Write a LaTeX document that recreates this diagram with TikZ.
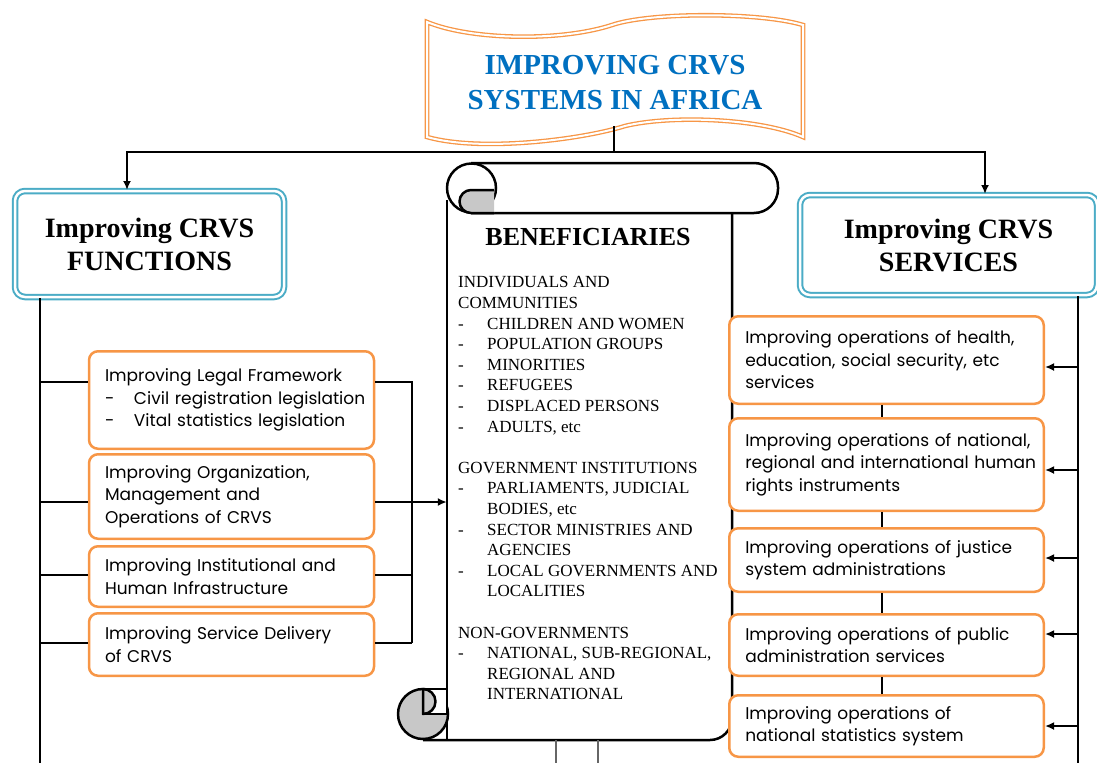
\documentclass[tikz,border=0pt]{standalone}
\usepackage{fontspec}
\setmainfont{Liberation Serif}
\newfontfamily\boxfont{Poppins}
\usetikzlibrary{arrows.meta}

\definecolor{titleblue}{RGB}{0,112,192}
\definecolor{boxorange}{RGB}{247,150,70}
\definecolor{boxblue}{RGB}{75,172,198}
\definecolor{curlgrey}{RGB}{200,200,200}

\newcommand{\bul}{\makebox[29pt][l]{-}}
\newcommand{\ind}{\hspace*{29pt}}

\tikzset{
  headbox/.style={draw=boxblue, double=white, double distance=2.5pt, line width=2pt,
    rounded corners=10pt, fill=white, align=center,
    font=\fontsize{28}{33}\selectfont\bfseries},
  leftbox/.style={draw=boxorange, line width=2.5pt, rounded corners=9pt, fill=white,
    align=left, inner xsep=16pt, inner ysep=0pt, text width=253pt,
    font=\boxfont\fontsize{17}{22.5}\selectfont},
  rightbox/.style={leftbox, text width=282.5pt},
  link/.style={line width=2pt},
  thinlink/.style={line width=1.2pt},
  tip/.style={-{Latex[length=9pt, width=8pt]}},
  scrollline/.style={line width=2.5pt, line join=round},
}

\begin{document}
\begin{tikzpicture}[x=1pt, y=-1pt]
  \useasboundingbox (0,0) rectangle (1097,763);

  % Title banner
  \draw[draw=boxorange, double=white, double distance=2pt, line width=1.3pt, fill=white]
    (427,22) .. controls (470,40) and (560,42) .. (612,25)
    .. controls (650,12) and (760,12) .. (803,25) -- (803,137)
    .. controls (760,118) and (670,115) .. (625,126)
    .. controls (580,140) and (480,152) .. (427,137) -- cycle;
  \node[align=center, text=titleblue, font=\fontsize{29}{35}\selectfont\bfseries]
    (title) at (615,83) {IMPROVING CRVS\\SYSTEMS IN AFRICA};
  \coordinate (tbot) at (614,126);
  \coordinate (hub) at (614,152);

  % Heading boxes
  \node[headbox, minimum width=269pt, minimum height=106pt] (func) at (149.5,244)
    {Improving CRVS\\FUNCTIONS};
  \node[headbox, minimum width=297pt, minimum height=100pt] (svc) at (948.5,245)
    {Improving CRVS\\SERVICES};

  \draw[link] (tbot) -- (hub);
  \draw[link, tip] (hub) -| ([xshift=-22.5pt]func.north);
  \draw[link, tip] (hub) -| ([xshift=36.5pt]svc.north);

  % Scroll
  \node[minimum width=285pt, minimum height=527pt, inner sep=0pt] (benef) at (589.5,476.5) {};
  \fill[white] (447,200) rectangle (732,740);
  \draw[scrollline] (447,200) -- (447,740) -- (423,740);
  \draw[scrollline, rounded corners=22pt] (423,740) -- (732,740) -- (732,200);
  \filldraw[scrollline, fill=curlgrey] (423,714) circle (25);
  \filldraw[scrollline, fill=white] (423,689) -- (447,689) -- (447,714) -- (423,714);
  \filldraw[scrollline, fill=curlgrey] (423,689) arc[start angle=-90, end angle=90, radius=12.5] -- cycle;
  \draw[scrollline, fill=white, rounded corners=24pt]
    (471,163) -- (778,163) -- (778,213) -- (471,213);
  \filldraw[scrollline, fill=white] (471.5,188) circle (24.5);
  \filldraw[scrollline, fill=curlgrey]
    (494,190) -- (471,190) arc[start angle=-90, end angle=-270, radius=11.5] -- (494,213);

  \node[font=\fontsize{26}{30}\selectfont\bfseries] (benhead) at (588,237) {BENEFICIARIES};
  \node[anchor=north west, align=left, inner sep=0pt, font=\fontsize{17}{20.6}\selectfont]
    (benlist) at (458,276.5) {INDIVIDUALS AND\\COMMUNITIES\\
    \bul CHILDREN AND WOMEN\\\bul POPULATION GROUPS\\\bul MINORITIES\\
    \bul REFUGEES\\\bul DISPLACED PERSONS\\\bul ADULTS, etc\\[20.6pt]
    GOVERNMENT INSTITUTIONS\\\bul PARLIAMENTS, JUDICIAL\\\ind BODIES, etc\\
    \bul SECTOR MINISTRIES AND\\\ind AGENCIES\\
    \bul LOCAL GOVERNMENTS AND\\\ind LOCALITIES\\[20.6pt]
    NON-GOVERNMENTS\\\bul NATIONAL, SUB-REGIONAL,\\\ind REGIONAL AND\\\ind INTERNATIONAL};

  \coordinate (down1) at (556,763);
  \coordinate (down2) at (598,763);
  \draw[line width=1.8pt, black!60] (benef.south -| down1) -- (down1);
  \draw[line width=1.8pt, black!60] (benef.south -| down2) -- (down2);

  % Functions side
  \node[leftbox, minimum height=97.5pt] (legal) at (231.5,400)
    {Improving Legal Framework\\\mbox{\bul Civil registration legislation}\\\mbox{\bul Vital statistics\ legislation}};
  \node[leftbox, minimum height=84.5pt] (organ) at (231.5,496.5)
    {Improving Organization,\\Management and\\Operations of CRVS};
  \node[leftbox, minimum height=60.5pt] (infra) at (231.5,576.5)
    {Improving Institutional and\\Human Infrastructure};
  \node[leftbox, minimum height=62.5pt] (delivery) at (231.5,644.5)
    {Improving Service Delivery\\of CRVS};

  \coordinate (fbus) at (40,763);
  \coordinate (rjoin) at (412,643);
  \draw[link] (func.south -| fbus) -- (fbus);
  \foreach \b/\s in {legal/18, organ/-5.5, infra/1.5, delivery/1.5} {
    \draw[link] ([yshift=\s pt]\b.west) -| (fbus);
    \draw[link] ([yshift=\s pt]\b.east) -| (rjoin);
  }
  \coordinate (orgout) at ([yshift=-5.5pt]organ.east);
  \draw[link, tip] (orgout) -- (orgout -| benef.west);

  % Services side
  \node[rightbox, minimum height=87.5pt] (ops1) at (886.5,360)
    {Improving operations of health,\\education, social security, etc\\services};
  \node[rightbox, minimum height=92.5pt] (ops2) at (886.5,464.5)
    {\mbox{Improving operations of national,}\\\mbox{regional and international human}\\rights instruments};
  \node[rightbox, minimum height=63.5pt] (ops3) at (886.5,560)
    {Improving operations of justice\\system administrations};
  \node[rightbox, minimum height=61.5pt] (ops4) at (886.5,645)
    {Improving operations of public\\administration services};
  \node[rightbox, minimum height=61.5pt] (ops5) at (886.5,726)
    {Improving operations of\\national statistics system};

  \coordinate (sbus) at (1078,763);
  \draw[link] (svc.south -| sbus) -- (sbus);
  \foreach \b/\s in {ops1/-7, ops2/-5.5, ops3/2, ops4/11, ops5/0} {
    \path ([yshift=\s pt]\b.east) coordinate (\b-in);
    \draw[link, tip] (sbus |- \b-in) -- (\b-in);
  }
  \foreach \a/\b in {ops1/ops2, ops2/ops3, ops3/ops4, ops4/ops5}
    \draw[thinlink] ([xshift=-4.5pt]\a.south) -- ([xshift=-4.5pt]\b.north);
\end{tikzpicture}
\end{document}
